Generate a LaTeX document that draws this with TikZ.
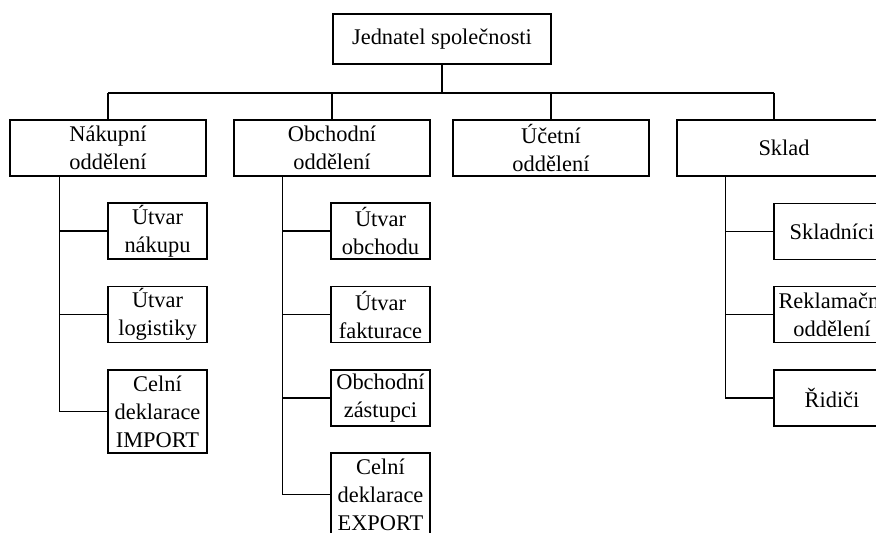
\documentclass[tikz,border=0pt]{standalone}
\usepackage{fontspec}
\setmainfont{Liberation Serif}
\begin{document}
\begin{tikzpicture}[x=0.5pt,y=-0.5pt]
	\tikzset{box/.style={draw=black, line width=0.65pt, align=center, inner sep=0pt, font=\fontsize{11.2}{14}\selectfont}};
	\tikzset{lvl/.style={box, minimum width=98pt, minimum height=28pt}};
	\tikzset{sub/.style={box, minimum width=49.5pt, minimum height=28pt}};
	\useasboundingbox (0,0) rectangle (876,532);
	\clip (0,0) rectangle (876,532);

	\node[box, minimum width=109pt, minimum height=25pt] (top) at (442,39) {Jednatel společnosti};

	\node[lvl] (nakup) at (108,148) {Nákupní\\oddělení};
	\node[lvl] (obchod) at (332,148) {Obchodní\\oddělení};
	\node[lvl] (ucet) at (551,148) {Účetní\\oddělení};
	\node[lvl, minimum width=107pt] (sklad) at (784,148) {Sklad};

	\node[sub] (utnakup) at (157.5,231) {Útvar\\nákupu};
	\node[sub] (utlog) at (157.5,314.5) {Útvar\\logistiky};
	\node[sub, minimum height=41.5pt] (celimp) at (157.5,411.5) {Celní\\deklarace\\IMPORT};

	\node[sub] (utobch) at (380.5,231) {Útvar\\obchodu};
	\node[sub] (utfakt) at (380.5,314.5) {Útvar\\fakturace};
	\node[sub] (zastup) at (380.5,398) {Obchodní\\zástupci};
	\node[sub, minimum height=41.5pt] (celexp) at (380.5,494.5) {Celní\\deklarace\\EXPORT};

	\node[sub, minimum width=58pt] (skladnici) at (832,231.5) {Skladníci};
	\node[sub, minimum width=58pt] (reklam) at (832,314.5) {Reklamační\\oddělení};
	\node[sub, minimum width=58pt] (ridici) at (832,398) {Řidiči};

	\coordinate (bus) at (442,93);
	\coordinate (skdrop) at (774,93);

	\draw[black, line width=0.65pt] (top.south) -- (bus);
	\draw[black, line width=0.65pt] (bus -| nakup.north) -- (skdrop);
	\draw[black, line width=0.65pt] (bus -| nakup.north) -- (nakup.north);
	\draw[black, line width=0.65pt] (bus -| obchod.north) -- (obchod.north);
	\draw[black, line width=0.65pt] (bus -| ucet.north) -- (ucet.north);
	\draw[black, line width=0.65pt] (skdrop) -- (skdrop |- sklad.north);

	\draw[black, line width=0.65pt] ([xshift=25pt]nakup.south west) |- (utnakup.west);
	\draw[black, line width=0.65pt] ([xshift=25pt]nakup.south west) |- (utlog.west);
	\draw[black, line width=0.65pt] ([xshift=25pt]nakup.south west) |- (celimp.west);

	\draw[black, line width=0.65pt] ([xshift=24.5pt]obchod.south west) |- (utobch.west);
	\draw[black, line width=0.65pt] ([xshift=24.5pt]obchod.south west) |- (utfakt.west);
	\draw[black, line width=0.65pt] ([xshift=24.5pt]obchod.south west) |- (zastup.west);
	\draw[black, line width=0.65pt] ([xshift=24.5pt]obchod.south west) |- (celexp.west);

	\draw[black, line width=0.65pt] ([xshift=24.5pt]sklad.south west) |- (skladnici.west);
	\draw[black, line width=0.65pt] ([xshift=24.5pt]sklad.south west) |- (reklam.west);
	\draw[black, line width=0.65pt] ([xshift=24.5pt]sklad.south west) |- (ridici.west);
\end{tikzpicture}
\end{document}
